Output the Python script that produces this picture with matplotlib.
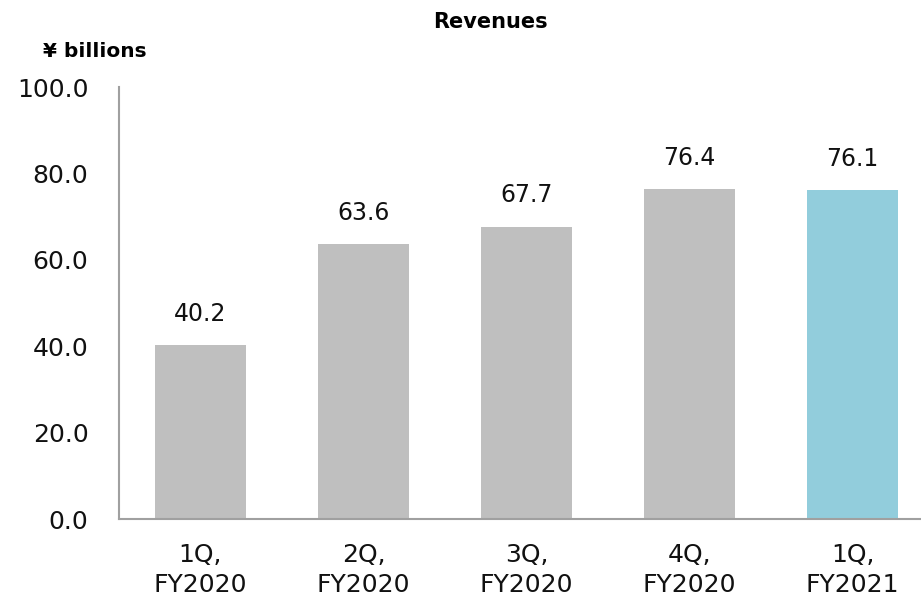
import matplotlib.pyplot as plt

categories = ['1Q,\nFY2020', '2Q,\nFY2020', '3Q,\nFY2020', '4Q,\nFY2020', '1Q,\nFY2021']
revenues = [40.2, 63.6, 67.7, 76.4, 76.1]
bar_colors = ['#bfbfbf', '#bfbfbf', '#bfbfbf', '#bfbfbf', '#92cddc']
y_ticks = [0, 20, 40, 60, 80, 100]

fig = plt.figure(figsize=(9.21, 6.03), dpi=100)
ax = fig.add_axes([0.1292, 0.1393, 0.8708, 0.7164])

x = range(len(categories))
bars = ax.bar(x, revenues, width=0.56, color=bar_colors, zorder=2)

# value labels above each bar
for xi, v in zip(x, revenues):
    ax.annotate(f'{v:.1f}', xy=(xi, v), xytext=(0, 14), textcoords='offset points',
                ha='center', va='bottom', fontsize=17, color='#111111')

ax.set_xlim(-0.5, 4.42)
ax.set_ylim(0, 100)
ax.set_yticks(y_ticks)
ax.set_yticklabels([f'{t:.1f}' for t in y_ticks])
ax.set_xticks(list(x))
ax.set_xticklabels(categories, linespacing=1.35)
ax.tick_params(axis='y', length=0, pad=22, labelsize=18, labelcolor='#111111')
ax.tick_params(axis='x', length=0, pad=17, labelsize=18, labelcolor='#111111')

for side in ['top', 'right']:
    ax.spines[side].set_visible(False)
for side in ['left', 'bottom']:
    ax.spines[side].set_color('#a0a0a0')
    ax.spines[side].set_linewidth(1.5)

fig.text(0.533, 0.963, 'Revenues', ha='center', va='center', fontsize=15, fontweight='bold')
fig.text(0.047, 0.914, '¥ billions', ha='left', va='center', fontsize=14.5, fontweight='bold')

fig.savefig('out.png', dpi=100)
